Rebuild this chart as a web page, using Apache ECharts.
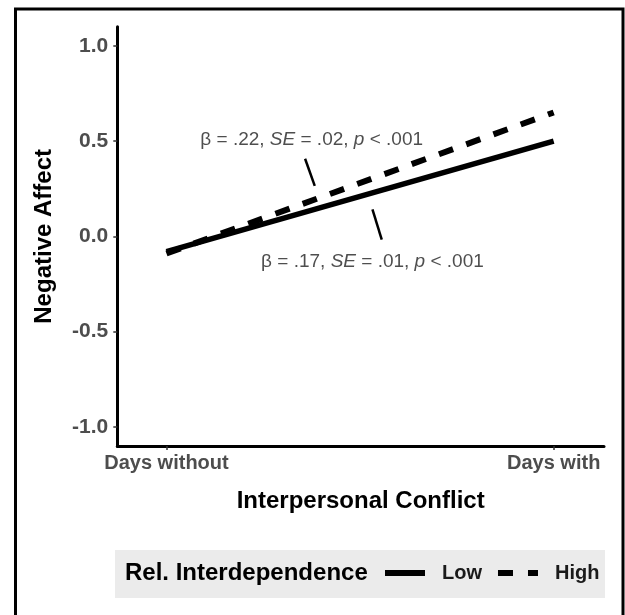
<!DOCTYPE html>
<html>
<head>
<meta charset="utf-8">
<script src="https://cdn.jsdelivr.net/npm/echarts@6/dist/echarts.min.js"></script>
<style>
html,body{margin:0;padding:0;background:#fff;}
#chart{width:625px;height:615px;}
</style>
</head>
<body>
<div id="chart"></div>
<script>
// ---- data ----
const conflictPositions = [0, 1];
const conflictLabels = ['Days without', 'Days with'];
const lowValues = [-0.08, 0.50];
const highValues = [-0.09, 0.65];
const yTickValues = [-1.0, -0.5, 0.0, 0.5, 1.0];
const seriesNames = ['Low', 'High'];
// annotation anchors (data coordinates)
const annotTexts = [
  '{n|β = .22, }{i|SE}{n| = .02, }{i|p}{n| < .001}',
  '{n|β = .17, }{i|SE}{n| = .01, }{i|p}{n| < .001}'
];
const annotX = [0.375, 0.532];
const annotY = [0.509, -0.132];
const pointerHigh = [[0.358, 0.407], [0.383, 0.265]];
const pointerLow = [[0.532, 0.141], [0.556, -0.017]];

const FONT = '"Liberation Sans", Arial, Helvetica, sans-serif';
const chart = echarts.init(document.getElementById('chart'), null, {renderer: 'canvas'});

const toPairs = (xs, ys) => xs.map((x, i) => [x, ys[i]]);

const option = {
  animation: false,
  backgroundColor: '#ffffff',
  textStyle: {fontFamily: FONT},
  grid: {left: 117.3, right: 21, top: 26.7, bottom: 169, containLabel: false},
  title: {
    text: 'Rel. Interdependence',
    left: 125, top: 561, padding: 0,
    textStyle: {fontFamily: FONT, fontSize: 24, fontWeight: 'bold', color: '#000'}
  },
  legend: {
    data: [
      {name: 'Low', icon: 'rect'},
      {name: 'High', icon: 'path://M0,0H15V6H0Z M30,0H40V6H30Z'}
    ],
    left: 385, top: 563, padding: 0,
    itemWidth: 40, itemHeight: 6, itemGap: 16,
    selectedMode: false,
    itemStyle: {color: '#000'},
    textStyle: {fontFamily: FONT, fontSize: 20, fontWeight: 'bold', color: '#1a1a1a', padding: [0, 0, 0, 12]}
  },
  xAxis: {
    type: 'value', min: -0.127, max: 1.13,
    name: 'Interpersonal Conflict', nameLocation: 'middle', nameGap: 43,
    nameTextStyle: {fontFamily: FONT, fontSize: 24, fontWeight: 'bold', color: '#000'},
    splitLine: {show: false},
    axisLine: {show: true, onZero: false, lineStyle: {color: '#000', width: 3}},
    axisTick: {show: true, customValues: conflictPositions, length: 4, lineStyle: {color: '#333', width: 1.5}},
    axisLabel: {
      customValues: conflictPositions, margin: 7,
      fontFamily: FONT, fontSize: 20, fontWeight: 'bold', color: '#4d4d4d',
      formatter: v => conflictLabels[conflictPositions.indexOf(Math.round(v))] || ''
    }
  },
  yAxis: {
    type: 'value', min: -1.1, max: 1.1,
    name: 'Negative Affect', nameLocation: 'middle', nameGap: 61, nameRotate: 90,
    nameTextStyle: {fontFamily: FONT, fontSize: 24, fontWeight: 'bold', color: '#000'},
    splitLine: {show: false},
    axisLine: {show: true, onZero: false, lineStyle: {color: '#000', width: 3}},
    axisTick: {show: true, customValues: yTickValues, length: 4, lineStyle: {color: '#333', width: 1.5}},
    axisLabel: {
      customValues: yTickValues, margin: 9,
      fontFamily: FONT, fontSize: 21, fontWeight: 'bold', color: '#4d4d4d',
      formatter: v => v.toFixed(1)
    }
  },
  series: [
    {
      name: 'Low', type: 'line', data: toPairs(conflictPositions, lowValues),
      showSymbol: false, symbol: 'none', z: 3,
      itemStyle: {color: '#000'},
      lineStyle: {color: '#000', width: 5.5, cap: 'butt'}
    },
    {
      name: 'High', type: 'line', data: toPairs(conflictPositions, highValues),
      showSymbol: false, symbol: 'none', z: 4,
      itemStyle: {color: '#000'},
      lineStyle: {color: '#000', width: 6, type: [15, 14], cap: 'butt'}
    },
    {
      name: 'ptrHigh', type: 'line', data: pointerHigh, showSymbol: false, symbol: 'none',
      lineStyle: {color: '#000', width: 2.5}, silent: true
    },
    {
      name: 'ptrLow', type: 'line', data: pointerLow, showSymbol: false, symbol: 'none',
      lineStyle: {color: '#000', width: 2.5}, silent: true
    },
    {
      name: 'annot', type: 'scatter', symbolSize: 1,
      itemStyle: {color: 'rgba(0,0,0,0)'},
      data: annotX.map((x, i) => ({value: [x, annotY[i]], label: {formatter: annotTexts[i]}})),
      label: {
        show: true, position: 'inside', align: 'center', verticalAlign: 'middle',
        rich: {
          n: {fontFamily: FONT, fontSize: 19, color: '#222'},
          i: {fontFamily: FONT, fontSize: 19, fontStyle: 'italic', color: '#222'}
        }
      },
      silent: true
    }
  ],
  graphic: [
    {type: 'rect', z: -10, shape: {x: 115, y: 550, width: 490, height: 48}, style: {fill: '#ebebeb'}, silent: true},
    {type: 'rect', z: 100, shape: {x: 15.5, y: 9, width: 607.5, height: 612}, style: {fill: 'none', stroke: '#000', lineWidth: 3}, silent: true}
  ]
};
chart.setOption(option);
</script>
</body>
</html>
